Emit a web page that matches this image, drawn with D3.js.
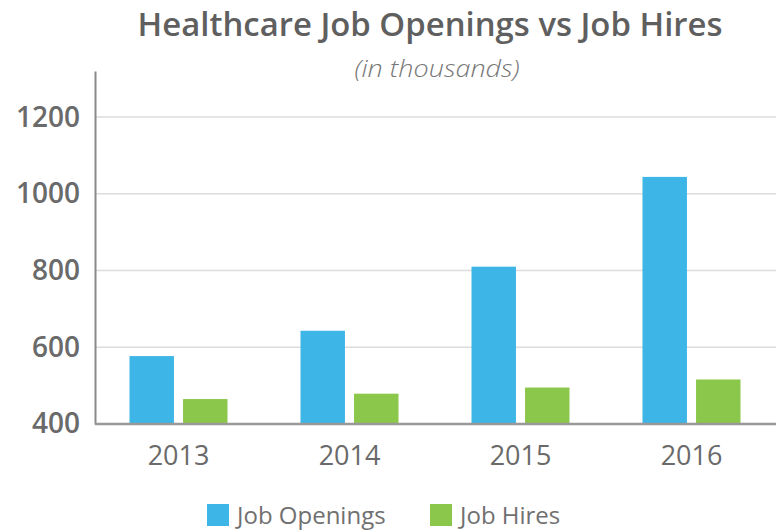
<!DOCTYPE html>
<html>
<head>
<meta charset="utf-8">
<script src="https://cdn.jsdelivr.net/npm/d3@7"></script>
<style>
  body { margin: 0; background: #fff; }
  svg { display: block; }
</style>
</head>
<body>
<script>
var w = 781;  // width of the SVG
var h = 532;  // height of the SVG

var years = ["2013", "2014", "2015", "2016"];   // categories
var openings = [577, 643, 810, 1044];           // Job Openings (thousands)
var hires = [465, 479, 495, 516];               // Job Hires (thousands)
var seriesNames = ["Job Openings", "Job Hires"];
var yTicks = [400, 600, 800, 1000, 1200];

var colors = ["#3db5e6", "#8bc74a"];

var svg = d3.select("body").append("svg")
    .attr("width", w)
    .attr("height", h);

// scales
var x0 = d3.scaleBand()
    .domain(years)
    .range([93, 777]);

var x1 = d3.scaleBand()
    .domain(d3.range(seriesNames.length))
    .range([-49, 49])
    .paddingInner(0.17);

var y = d3.scaleLinear()
    .domain([400, 1320])
    .range([424, 71]);

// gridlines
svg.append("g")
    .selectAll("line")
    .data(yTicks.slice(1))
    .enter()
    .append("line")
    .attr("x1", 95)
    .attr("x2", 776)
    .attr("y1", function(d) { return y(d); })
    .attr("y2", function(d) { return y(d); })
    .attr("stroke", "#dcdcdc")
    .attr("stroke-width", 1.5);

// y axis
var yAxis = d3.axisLeft(y)
    .tickValues(yTicks)
    .tickFormat(d3.format("d"))
    .tickSize(0)
    .tickPadding(15);

var gy = svg.append("g")
    .attr("transform", "translate(95,0)")
    .call(yAxis);
gy.select(".domain").attr("stroke", "#8a8a8a").attr("stroke-width", 2);
gy.selectAll("text")
    .attr("font-family", "'Open Sans', sans-serif")
    .attr("font-size", "28px")
    .attr("font-weight", 600)
    .attr("fill", "#6a6a6a");

// bars
var groups = svg.selectAll(".year")
    .data(years)
    .enter()
    .append("g")
    .attr("transform", function(d) { return "translate(" + (x0(d) + x0.bandwidth() / 2) + ",0)"; });

groups.selectAll("rect")
    .data(function(d, i) { return [openings[i], hires[i]]; })
    .enter()
    .append("rect")
    .attr("x", function(d, i) { return x1(i); })
    .attr("y", function(d) { return y(d); })
    .attr("width", x1.bandwidth())
    .attr("height", function(d) { return y(400) - y(d); })
    .attr("fill", function(d, i) { return colors[i]; });

// x axis (baseline)
var xAxis = d3.axisBottom(x0)
    .tickSize(0)
    .tickPadding(22);

var gx = svg.append("g")
    .attr("transform", "translate(0,424)")
    .call(xAxis);
gx.select(".domain")
    .attr("d", "M95,0H776")
    .attr("stroke", "#999")
    .attr("stroke-width", 2.5);
gx.selectAll("text")
    .attr("font-family", "'Open Sans', sans-serif")
    .attr("font-size", "27px")
    .attr("fill", "#6a6a6a");

// title
svg.append("text")
    .attr("x", 430)
    .attr("y", 36)
    .attr("text-anchor", "middle")
    .attr("font-family", "'Open Sans', sans-serif")
    .attr("font-weight", 600)
    .attr("font-size", "32px")
    .attr("textLength", 585)
    .attr("lengthAdjust", "spacingAndGlyphs")
    .attr("fill", "#5f5f5f")
    .text("Healthcare Job Openings vs Job Hires");

svg.append("text")
    .attr("x", 437)
    .attr("y", 77)
    .attr("text-anchor", "middle")
    .attr("font-family", "'Open Sans', sans-serif")
    .attr("font-style", "italic")
    .attr("font-weight", 300)
    .attr("font-size", "24px")
    .attr("textLength", 165)
    .attr("lengthAdjust", "spacingAndGlyphs")
    .attr("fill", "#777")
    .text("(in thousands)");

// legend
var legendX = [207, 430];
var legend = svg.selectAll(".legend")
    .data(seriesNames)
    .enter()
    .append("g")
    .attr("transform", function(d, i) { return "translate(" + legendX[i] + ",504)"; });

legend.append("rect")
    .attr("width", 22)
    .attr("height", 22)
    .attr("fill", function(d, i) { return colors[i]; });

legend.append("text")
    .attr("x", 30)
    .attr("y", 20)
    .attr("font-family", "'Open Sans', sans-serif")
    .attr("font-size", "24px")
    .attr("fill", "#707070")
    .text(function(d) { return d; });
</script>
</body>
</html>
